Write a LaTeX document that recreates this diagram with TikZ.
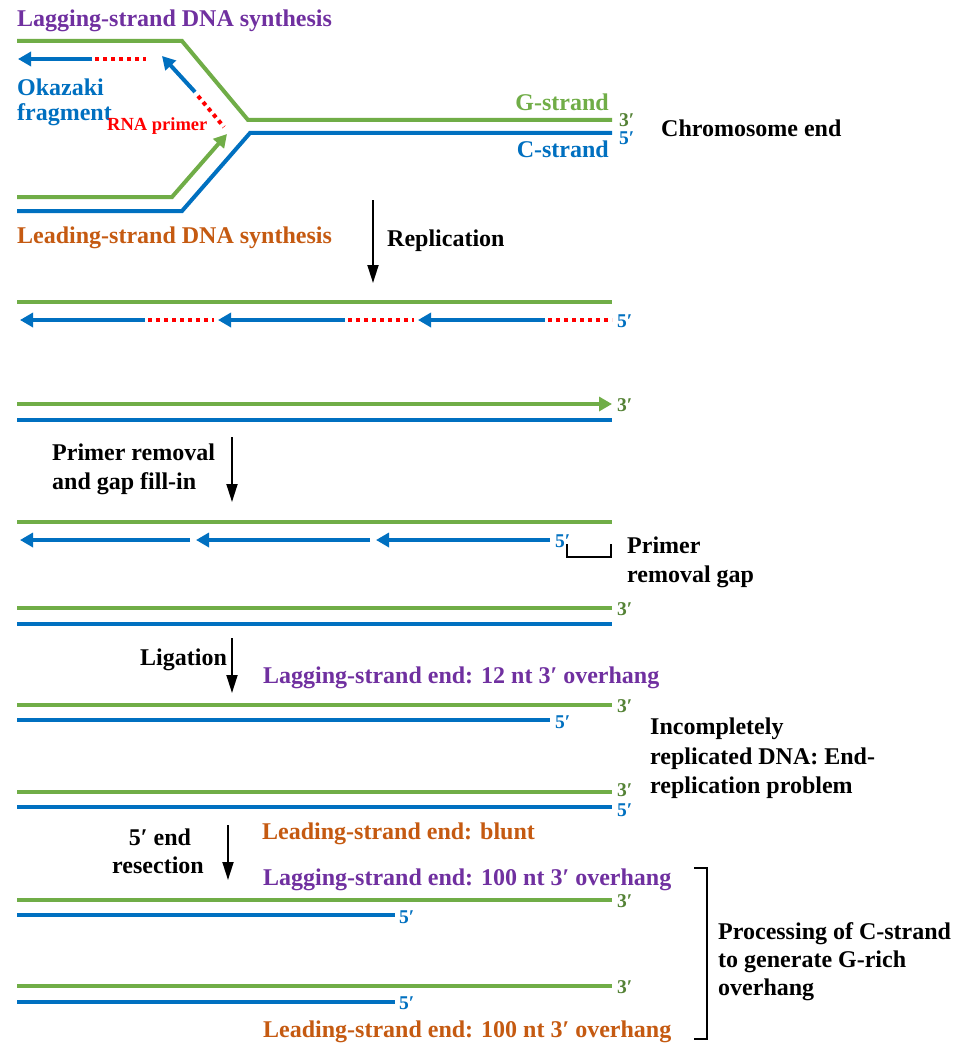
\documentclass[tikz,border=0pt]{standalone}
\usepackage{fontspec}
\setmainfont{Liberation Serif}
\usetikzlibrary{arrows.meta}
\definecolor{gr}{HTML}{70AD47}
\definecolor{dgr}{HTML}{548235}
\definecolor{bl}{HTML}{0070C0}
\definecolor{pu}{HTML}{7030A0}
\definecolor{orr}{HTML}{C55A11}
\definecolor{rd}{HTML}{FF0000}
\tikzset{
  gs/.style={draw=gr, line width=4pt},
  cs/.style={draw=bl, line width=4pt},
  rna/.style={draw=rd, line width=4pt, dash pattern=on 4pt off 4pt},
  btip/.style={-{Triangle[length=13pt,width=14pt]}},
  procarrow/.style={draw=black, line width=1.8pt, -{Triangle[length=18pt,width=11pt]}},
  lbl/.style={font=\fontsize{24}{29}\selectfont\bfseries, inner sep=0pt, anchor=base west},
  lblr/.style={font=\fontsize{24}{29}\selectfont\bfseries, inner sep=0pt, anchor=base east},
  endl/.style={font=\fontsize{19.5}{20}\selectfont\bfseries, inner sep=0pt, anchor=base west},
}
\begin{document}
\begin{tikzpicture}[x=1pt,y=-1pt]
\useasboundingbox[fill=white] (0,0) rectangle (957,1043);

% ---------- replication fork ----------
\draw[gs] (17,41) -- (182,41) -- (248,120) -- (612,120);
\draw[cs] (17,211) -- (182,211) -- (250,133) -- (612,133);
\draw[gs, btip] (17,197) -- (172,197) -- (227,134);
\draw[cs, btip] (92,59) -- (18,59);
\draw[rna] (95,59) -- (146,59);
\draw[cs, btip] (195,92) -- (162,56);
\draw[rna] (198,96) -- (224,127);

\node[lbl, text=pu] (lagsyn) at (17,27) {Lagging-strand DNA synthesis};
\node[lbl, text=bl] (oka1) at (17,96) {Okazaki};
\node[lbl, text=bl] (oka2) at (17,121) {fragment};
\node[font=\fontsize{18.5}{20}\selectfont\bfseries, inner sep=0pt, anchor=base west, text=rd] (rnap) at (107,131) {RNA primer};
\node[lbl, text=orr] (leadsyn) at (17,243) {Leading-strand DNA synthesis};
\node[lblr, text=gr] (gstr) at (609,111) {G-strand};
\node[lblr, text=bl] (cstr) at (609,158) {C-strand};
\node[endl, text=dgr] (e1) at (619,127) {3′};
\node[endl, text=bl] (e2) at (619,145) {5′};
\node[lbl] (chrom) at (661,137) {Chromosome end};

% Replication
\coordinate (r1) at (373,200); \coordinate (r2) at (373,283);
\draw[procarrow] (r1) -- (r2);
\node[lbl] (repl) at (387,246) {Replication};

% ---------- after replication ----------
\draw[gs] (17,302) -- (612,302);
\draw[cs, btip] (145,320) -- (20,320);
\draw[rna] (148,320) -- (214,320);
\draw[cs, btip] (345,320) -- (218,320);
\draw[rna] (348,320) -- (414,320);
\draw[cs, btip] (545,320) -- (418,320);
\draw[rna] (548,320) -- (612,320);
\node[endl, text=bl] (e3) at (617,327) {5′};

\draw[gs, btip] (17,404) -- (612,404);
\draw[cs] (17,420) -- (612,420);
\node[endl, text=dgr] (e4) at (617,411) {3′};

% Primer removal
\coordinate (p1) at (232,437); \coordinate (p2) at (232,502);
\draw[procarrow] (p1) -- (p2);
\node[lbl] (prm1) at (52,460) {Primer removal};
\node[lbl] (prm2) at (52,489) {and gap fill-in};

% ---------- after primer removal ----------
\draw[gs] (17,522) -- (612,522);
\draw[cs, btip] (190,540) -- (20,540);
\draw[cs, btip] (370,540) -- (196,540);
\draw[cs, btip] (550,540) -- (376,540);
\node[endl, text=bl] (e5) at (555,547) {5′};
\draw[black, line width=2pt] (567,544) -- (567,557) -- (611,557) -- (611,544);
\node[lbl] (gap1) at (627,553) {Primer};
\node[lbl] (gap2) at (627,582) {removal gap};

\draw[gs] (17,608) -- (612,608);
\draw[cs] (17,624) -- (612,624);
\node[endl, text=dgr] (e6) at (617,615) {3′};

% Ligation
\coordinate (l1) at (232,638); \coordinate (l2) at (232,693);
\draw[procarrow] (l1) -- (l2);
\node[lbl] (lig) at (140,665) {Ligation};
\node[lbl, text=pu] (lag12) at (263,683) {Lagging-strand end: 12 nt 3′ overhang};

% ---------- after ligation ----------
\draw[gs] (17,705) -- (612,705);
\draw[cs] (17,720) -- (550,720);
\node[endl, text=dgr] (e7) at (617,712) {3′};
\node[endl, text=bl] (e8) at (555,728) {5′};

\node[lbl] (inc1) at (650,734) {Incompletely};
\node[lbl] (inc2) at (650,764) {replicated DNA: End-};
\node[lbl] (inc3) at (650,793) {replication problem};

\draw[gs] (17,792) -- (612,792);
\draw[cs] (17,807) -- (612,807);
\node[endl, text=dgr] (e9) at (617,796) {3′};
\node[endl, text=bl] (e10) at (617,816) {5′};

% Resection
\coordinate (s1) at (228,825); \coordinate (s2) at (228,880);
\draw[procarrow] (s1) -- (s2);
\node[font=\fontsize{24}{29}\selectfont\bfseries, inner sep=0pt, anchor=base] (res1) at (160,845) {5′ end};
\node[font=\fontsize{24}{29}\selectfont\bfseries, inner sep=0pt, anchor=base] (res2) at (158,873) {resection};
\node[lbl, text=orr] (blunt) at (262,839) {Leading-strand end: blunt};
\node[lbl, text=pu] (lag100) at (263,885) {Lagging-strand end: 100 nt 3′ overhang};

% ---------- after resection ----------
\draw[gs] (17,900) -- (612,900);
\draw[cs] (17,915) -- (395,915);
\node[endl, text=dgr] (e11) at (617,907) {3′};
\node[endl, text=bl] (e12) at (399,923) {5′};

\draw[gs] (17,986) -- (612,986);
\draw[cs] (17,1002) -- (395,1002);
\node[endl, text=dgr] (e13) at (617,993) {3′};
\node[endl, text=bl] (e14) at (399,1009) {5′};
\node[lbl, text=orr] (lead100) at (263,1037) {Leading-strand end: 100 nt 3′ overhang};

\draw[black, line width=2.5pt] (694,868) -- (707,868) -- (707,1039) -- (694,1039);
\node[lbl] (proc1) at (718,939) {Processing of C-strand};
\node[lbl] (proc2) at (718,967) {to generate G-rich};
\node[lbl] (proc3) at (718,995) {overhang};
\end{tikzpicture}
\end{document}
